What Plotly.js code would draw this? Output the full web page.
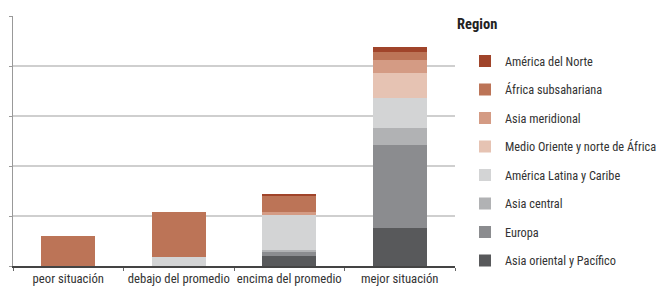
<!DOCTYPE html>
<html>
<head>
<meta charset="utf-8">
<script src="https://cdn.plot.ly/plotly-3.0.1.min.js"></script>
<style>html,body{margin:0;padding:0;background:#fff;}#chart{width:658px;height:293px;}</style>
</head>
<body>
<div id="chart"></div>
<script>
const categories = ["peor situación", "debajo del promedio", "encima del promedio", "mejor situación"];
const regions = ["Asia oriental y Pacífico", "Europa", "Asia central", "América Latina y Caribe", "Medio Oriente y norte de África", "Asia meridional", "África subsahariana", "América del Norte"];
const asiaOriental = [0, 0, 2.1, 7.7];
const europa = [0, 0, 0.7, 16.6];
const asiaCentral = [0, 0, 0.4, 3.4];
const americaLatina = [0, 1.8, 7.1, 6.0];
const medioOriente = [0, 0, 0, 4.9];
const asiaMeridional = [0, 0, 0.5, 2.7];
const africaSub = [6.0, 9.0, 3.3, 1.6];
const americaNorte = [0, 0, 0.4, 0.9];
const seriesValues = [asiaOriental, europa, asiaCentral, americaLatina, medioOriente, asiaMeridional, africaSub, americaNorte];
const colors = ["#58595b", "#8b8c8f", "#b1b2b4", "#d3d4d5", "#e6c3b3", "#d49b84", "#bc7457", "#a0442a"];

const FONT = "'Roboto Condensed', 'DejaVu Sans Condensed', sans-serif";

const traces = regions.map((name, i) => ({
  type: "bar",
  name: name,
  x: categories,
  y: seriesValues[i],
  marker: {color: colors[i], line: {width: 0}},
  legendgroup: "g" + i,
  legendrank: regions.length - i,
  hoverinfo: "x+y+name"
}));

const layout = {
  width: 658, height: 293,
  margin: {l: 13, r: 203, t: 16, b: 27},
  paper_bgcolor: "#fff", plot_bgcolor: "#fff",
  barmode: "stack",
  bargap: 0.51,
  font: {family: FONT, size: 13, color: "#333"},
  showlegend: true,
  legend: {
    traceorder: "grouped",
    tracegroupgap: 9.5,
    xref: "container", yref: "container",
    x: 0.7067, xanchor: "left",
    y: 0.841, yanchor: "top",
    maxheight: 1,
    font: {family: FONT, size: 12.3, color: "#333"},
    itemclick: false
  },
  xaxis: {
    type: "category",
    range: [-0.5, 3.5],
    showline: true, linecolor: "#444", linewidth: 1.5,
    ticks: "outside", tickson: "boundaries", ticklen: 3, tickcolor: "#666", tickwidth: 1,
    showgrid: false, zeroline: false, tickangle: 0,
    tickfont: {family: FONT, size: 12.7, color: "#333"}
  },
  yaxis: {
    range: [0, 50],
    dtick: 10,
    showticklabels: false,
    showline: true, linecolor: "#999", linewidth: 1.5,
    ticks: "outside", ticklen: 3, tickcolor: "#999", tickwidth: 1,
    showgrid: true, gridcolor: "#cfcfcf", gridwidth: 1.5,
    zeroline: false
  },
  annotations: [{
    text: "<b>Region</b>", xref: "paper", yref: "paper",
    x: 1.0, xanchor: "left",
    y: 0.967, yanchor: "middle",
    showarrow: false,
    font: {family: FONT, size: 14.5, color: "#222"}
  }]
};

Plotly.newPlot("chart", traces, layout, {displayModeBar: false, staticPlot: true});
</script>
</body>
</html>
